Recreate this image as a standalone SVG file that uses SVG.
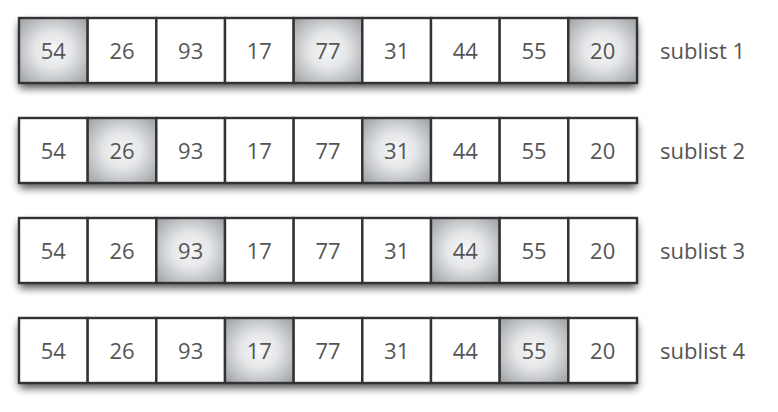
<svg xmlns="http://www.w3.org/2000/svg" width="778" height="412" viewBox="0 0 778 412">
<style>
.cell{fill:#ffffff;stroke:#333;stroke-width:2.4}
.hl{fill:url(#shade);stroke:#333;stroke-width:2.4}
.num{font-family:"Open Sans","Liberation Sans",sans-serif;font-size:22px;fill:#555;text-anchor:middle}
.lbl{font-family:"Open Sans","Liberation Sans",sans-serif;font-size:22px;fill:#555}
.bar{fill:#fff;filter:url(#sh)}
</style>
<defs>
<radialGradient id="shade" cx="0.5" cy="0.5" r="0.68">
<stop offset="0" stop-color="#f6f7f8"/>
<stop offset="0.4" stop-color="#e4e6e8"/>
<stop offset="1" stop-color="#9fa2a5"/>
</radialGradient>
<filter id="sh" x="-5%" y="-20%" width="110%" height="160%">
<feGaussianBlur in="SourceAlpha" stdDeviation="4"/>
<feOffset dx="0" dy="5" result="b"/>
<feComponentTransfer><feFuncA type="linear" slope="0.7"/></feComponentTransfer>
<feMerge><feMergeNode/><feMergeNode in="SourceGraphic"/></feMerge>
</filter>
</defs>
<g id="row1">
<rect class="bar" x="19" y="18" width="618" height="65"/>
<g id="r1c0"><rect class="hl" x="19" y="18" width="68.67" height="65"/><text class="num" x="53.3" y="58.5">54</text></g>
<g id="r1c1"><rect class="cell" x="87.67" y="18" width="68.67" height="65"/><text class="num" x="122" y="58.5">26</text></g>
<g id="r1c2"><rect class="cell" x="156.33" y="18" width="68.67" height="65"/><text class="num" x="190.7" y="58.5">93</text></g>
<g id="r1c3"><rect class="cell" x="225" y="18" width="68.67" height="65"/><text class="num" x="259.3" y="58.5">17</text></g>
<g id="r1c4"><rect class="hl" x="293.67" y="18" width="68.67" height="65"/><text class="num" x="328" y="58.5">77</text></g>
<g id="r1c5"><rect class="cell" x="362.33" y="18" width="68.67" height="65"/><text class="num" x="396.7" y="58.5">31</text></g>
<g id="r1c6"><rect class="cell" x="431" y="18" width="68.67" height="65"/><text class="num" x="465.3" y="58.5">44</text></g>
<g id="r1c7"><rect class="cell" x="499.67" y="18" width="68.67" height="65"/><text class="num" x="534" y="58.5">55</text></g>
<g id="r1c8"><rect class="hl" x="568.33" y="18" width="68.67" height="65"/><text class="num" x="602.7" y="58.5">20</text></g>
<text class="lbl" x="660" y="58.5">sublist 1</text>
</g>
<g id="row2">
<rect class="bar" x="19" y="118" width="618" height="65"/>
<g id="r2c0"><rect class="cell" x="19" y="118" width="68.67" height="65"/><text class="num" x="53.3" y="158.5">54</text></g>
<g id="r2c1"><rect class="hl" x="87.67" y="118" width="68.67" height="65"/><text class="num" x="122" y="158.5">26</text></g>
<g id="r2c2"><rect class="cell" x="156.33" y="118" width="68.67" height="65"/><text class="num" x="190.7" y="158.5">93</text></g>
<g id="r2c3"><rect class="cell" x="225" y="118" width="68.67" height="65"/><text class="num" x="259.3" y="158.5">17</text></g>
<g id="r2c4"><rect class="cell" x="293.67" y="118" width="68.67" height="65"/><text class="num" x="328" y="158.5">77</text></g>
<g id="r2c5"><rect class="hl" x="362.33" y="118" width="68.67" height="65"/><text class="num" x="396.7" y="158.5">31</text></g>
<g id="r2c6"><rect class="cell" x="431" y="118" width="68.67" height="65"/><text class="num" x="465.3" y="158.5">44</text></g>
<g id="r2c7"><rect class="cell" x="499.67" y="118" width="68.67" height="65"/><text class="num" x="534" y="158.5">55</text></g>
<g id="r2c8"><rect class="cell" x="568.33" y="118" width="68.67" height="65"/><text class="num" x="602.7" y="158.5">20</text></g>
<text class="lbl" x="660" y="158.5">sublist 2</text>
</g>
<g id="row3">
<rect class="bar" x="19" y="218" width="618" height="65"/>
<g id="r3c0"><rect class="cell" x="19" y="218" width="68.67" height="65"/><text class="num" x="53.3" y="258.5">54</text></g>
<g id="r3c1"><rect class="cell" x="87.67" y="218" width="68.67" height="65"/><text class="num" x="122" y="258.5">26</text></g>
<g id="r3c2"><rect class="hl" x="156.33" y="218" width="68.67" height="65"/><text class="num" x="190.7" y="258.5">93</text></g>
<g id="r3c3"><rect class="cell" x="225" y="218" width="68.67" height="65"/><text class="num" x="259.3" y="258.5">17</text></g>
<g id="r3c4"><rect class="cell" x="293.67" y="218" width="68.67" height="65"/><text class="num" x="328" y="258.5">77</text></g>
<g id="r3c5"><rect class="cell" x="362.33" y="218" width="68.67" height="65"/><text class="num" x="396.7" y="258.5">31</text></g>
<g id="r3c6"><rect class="hl" x="431" y="218" width="68.67" height="65"/><text class="num" x="465.3" y="258.5">44</text></g>
<g id="r3c7"><rect class="cell" x="499.67" y="218" width="68.67" height="65"/><text class="num" x="534" y="258.5">55</text></g>
<g id="r3c8"><rect class="cell" x="568.33" y="218" width="68.67" height="65"/><text class="num" x="602.7" y="258.5">20</text></g>
<text class="lbl" x="660" y="258.5">sublist 3</text>
</g>
<g id="row4">
<rect class="bar" x="19" y="318" width="618" height="65"/>
<g id="r4c0"><rect class="cell" x="19" y="318" width="68.67" height="65"/><text class="num" x="53.3" y="358.5">54</text></g>
<g id="r4c1"><rect class="cell" x="87.67" y="318" width="68.67" height="65"/><text class="num" x="122" y="358.5">26</text></g>
<g id="r4c2"><rect class="cell" x="156.33" y="318" width="68.67" height="65"/><text class="num" x="190.7" y="358.5">93</text></g>
<g id="r4c3"><rect class="hl" x="225" y="318" width="68.67" height="65"/><text class="num" x="259.3" y="358.5">17</text></g>
<g id="r4c4"><rect class="cell" x="293.67" y="318" width="68.67" height="65"/><text class="num" x="328" y="358.5">77</text></g>
<g id="r4c5"><rect class="cell" x="362.33" y="318" width="68.67" height="65"/><text class="num" x="396.7" y="358.5">31</text></g>
<g id="r4c6"><rect class="cell" x="431" y="318" width="68.67" height="65"/><text class="num" x="465.3" y="358.5">44</text></g>
<g id="r4c7"><rect class="hl" x="499.67" y="318" width="68.67" height="65"/><text class="num" x="534" y="358.5">55</text></g>
<g id="r4c8"><rect class="cell" x="568.33" y="318" width="68.67" height="65"/><text class="num" x="602.7" y="358.5">20</text></g>
<text class="lbl" x="660" y="358.5">sublist 4</text>
</g>
</svg>
